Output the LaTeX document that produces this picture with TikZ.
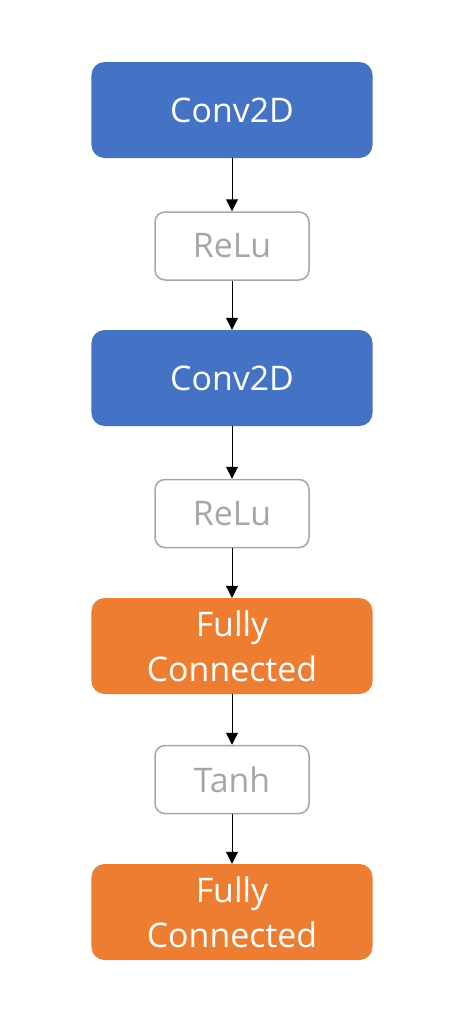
\documentclass[tikz,border=0pt]{standalone}
\usepackage{fontspec}
\setmainfont{Open Sans}
\usetikzlibrary{arrows.meta}
\begin{document}
\begin{tikzpicture}[x=1bp, y=-1bp,
    >={Triangle[width=12bp,length=12bp]},
    % Colors
    cblue/.style={fill={rgb,255:red,68;green,114;blue,196}},
    corange/.style={fill={rgb,255:red,237;green,125;blue,49}},
    % Styles
    layer/.style={rounded corners=13bp, minimum width=281bp, minimum height=96bp,
                  inner sep=0pt, text=white, font=\fontsize{34}{45}\selectfont, align=center},
    actbox/.style={draw={rgb,255:red,166;green,166;blue,166}, fill=white, rounded corners=10bp,
                  line width=1.5bp, minimum width=154bp, minimum height=68bp, inner sep=0pt,
                  text={rgb,255:red,166;green,166;blue,166}, font=\fontsize{34}{45}\selectfont},
    arrow/.style={->, line width=1bp, color=black},
  ]
  \useasboundingbox (0,0) rectangle (461,1023);

  % Convolution block 1
  \node[layer, cblue] (conv1) at (232, 110) {Conv2D};
  \node[actbox] (relu1) at (232, 246) {ReLu};

  % Convolution block 2
  \node[layer, cblue] (conv2) at (232, 378) {Conv2D};
  \node[actbox] (relu2) at (232, 513.5) {ReLu};

  % Dense layers
  \node[layer, corange] (fc1) at (232, 646) {Fully\\Connected};
  \node[actbox] (tanh) at (232, 779.5) {Tanh};
  \node[layer, corange] (fc2) at (232, 912) {Fully\\Connected};

  % Arrows
  \draw[arrow] (conv1) -- (relu1);
  \draw[arrow] (relu1) -- (conv2);
  \draw[arrow] (conv2) -- (relu2);
  \draw[arrow] (relu2) -- (fc1);
  \draw[arrow] (fc1) -- (tanh);
  \draw[arrow] (tanh) -- (fc2);

\end{tikzpicture}
\end{document}
